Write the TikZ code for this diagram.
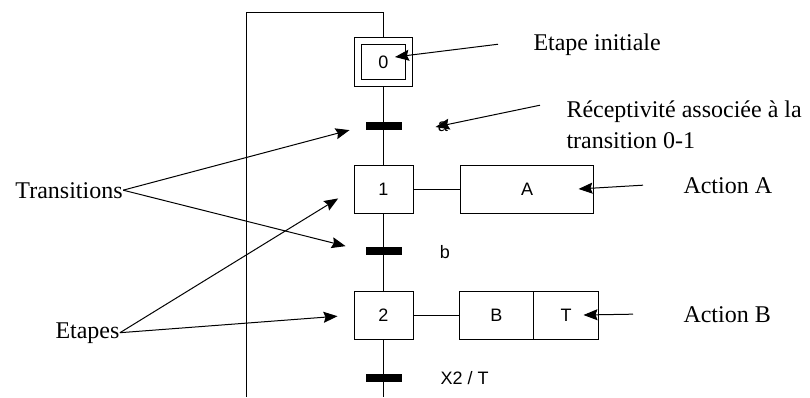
\documentclass[tikz,border=0pt]{standalone}
\usepackage{fontspec}
\setmainfont{Liberation Serif}
\newfontfamily\grafcetfont{Liberation Sans}
\usetikzlibrary{arrows.meta,positioning,backgrounds}
\tikzset{
  every picture/.style={line width=0.5pt},
  etape/.style={draw, minimum width=29.5pt, minimum height=24pt, inner sep=0pt, font=\grafcetfont\fontsize{9}{10}\selectfont},
  etapeinit/.style={etape, double, double distance=3pt, minimum width=25.5pt, minimum height=21pt},
  barre/.style={fill=black, minimum width=18pt, minimum height=4pt, inner sep=0pt},
  action/.style={draw, minimum height=24pt, inner sep=0pt, outer sep=0pt, font=\grafcetfont\fontsize{9}{10}\selectfont},
  recept/.style={font=\grafcetfont\fontsize{9}{10}\selectfont, inner sep=1pt},
  legende/.style={font=\fontsize{12}{14}\selectfont, inner sep=0pt},
  fleche/.style={-{Stealth[length=7pt,width=5.5pt,inset=1pt]}},
}
\begin{document}
\begin{tikzpicture}[x=0.5pt, y=-0.5pt]
  \useasboundingbox (0,0) rectangle (810,397);
  % grafcet
  \node[etapeinit] (s0) at (383.5,62) {0};
  \node[barre] (t1) at (383.5,126) {};
  \node[recept] (ra) at (443,127) {a};
  \node[etape] (s1) at (383.5,189) {1};
  \node[action, minimum width=66.5pt, right=23.5pt of s1] (actA) {A};
  \node[barre] (t2) at (383.5,251) {};
  \node[recept] (rb) at (445,252) {b};
  \node[etape] (s2) at (383.5,315) {2};
  \node[action, minimum width=37pt, right=23pt of s2] (actB) {B};
  \node[action, minimum width=32.5pt, right=0pt of actB] (actT) {T};
  \node[barre] (t3) at (383.5,378) {};
  \node[recept, anchor=west] (rx) at (438,378) {X2 / T};
  \coordinate (haut) at (383.5,12);
  \coordinate (bas) at (246,397);
  \coordinate (fin) at (383.5,397);
  \begin{scope}[on background layer]
    \draw (s0) -- (s1) (s1) -- (s2) (s2) -- (fin);
    \draw (s0) -- (haut) -| (bas);
    \draw (s1) -- (actA);
    \draw (s2) -- (actB);
  \end{scope}
  % legendes
  \node[legende, anchor=base west] (ei) at (533,50) {Etape initiale};
  \node[legende, anchor=base west] (rc) at (566,117) {Réceptivité associée à la};
  \node[legende, anchor=base west] (rc2) at (566,148) {transition 0-1};
  \node[legende, anchor=base west] (laA) at (683,193) {Action A};
  \node[legende, anchor=base west] (laB) at (683,322) {Action B};
  \node[legende, anchor=base west] (tr) at (15,198) {Transitions};
  \node[legende, anchor=base west] (et) at (55,338) {Etapes};
  \draw[fleche] ([xshift=-17.5pt]ei.west) -- ([xshift=5.75pt,yshift=2.5pt]s0.center);
  \draw[fleche] ([xshift=-13pt,yshift=3pt]rc.west) -- (ra.west);
  \draw[fleche, shorten >=8pt] (tr.east) -- (t1.west);
  \draw[fleche, shorten >=10pt] (tr.east) -- (t2.west);
  \draw[fleche, shorten >=9pt] (et.east) -- (s1.west);
  \draw[fleche, shorten >=8pt] (et.east) -- (s2.west);
  \draw[fleche] ([xshift=-20pt]laA.west) -- ([xshift=-7.5pt]actA.east);
  \draw[fleche] ([xshift=-25pt]laB.west) -- ([xshift=-7.5pt]actT.east);
\end{tikzpicture}
\end{document}
